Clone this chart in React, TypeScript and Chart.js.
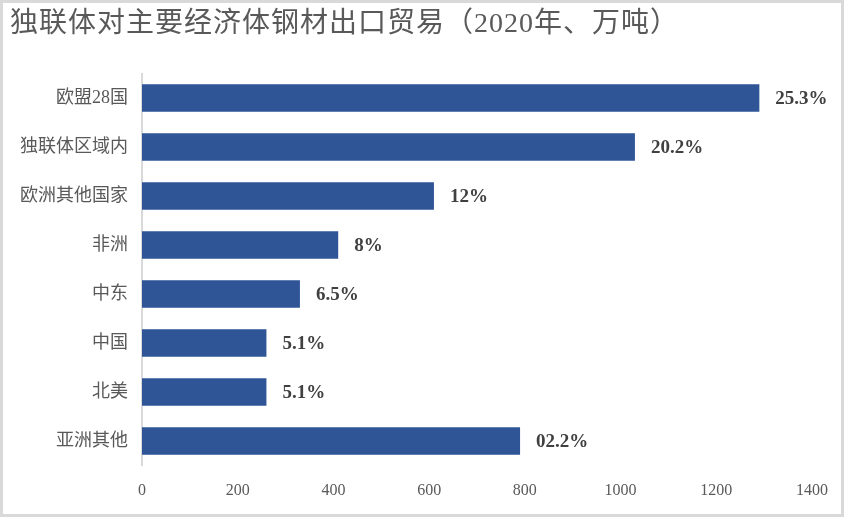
import React, { useEffect, useRef } from "react";
import { Chart, registerables } from "chart.js";

Chart.register(...registerables);

const TITLE = "独联体对主要经济体钢材出口贸易（2020年、万吨）";
const categories = ["欧盟28国", "独联体区域内", "欧洲其他国家", "非洲", "中东", "中国", "北美", "亚洲其他"];
const exportVolume = [1290, 1030, 610, 410, 330, 260, 260, 790];
const shareLabels = ["25.3%", "20.2%", "12%", "8%", "6.5%", "5.1%", "5.1%", "02.2%"];
const xTicks = [0, 200, 400, 600, 800, 1000, 1200, 1400];

const SERIF_CJK = '"Liberation Serif", "Noto Sans CJK SC", serif';

const titlePlugin = {
  id: "leftTitle",
  afterDraw(chart: any) {
    const ctx = chart.ctx;
    ctx.save();
    ctx.font = `28px ${SERIF_CJK}`;
    try {
      (ctx as any).letterSpacing = "1px";
    } catch (e) {}
    ctx.fillStyle = "#595959";
    ctx.textAlign = "left";
    ctx.textBaseline = "middle";
    ctx.fillText(TITLE, 10, 25);
    ctx.restore();
  },
};

const barLabelPlugin = {
  id: "barLabels",
  afterDatasetsDraw(chart: any) {
    const ctx = chart.ctx;
    const meta = chart.getDatasetMeta(0);
    ctx.save();
    ctx.font = 'bold 19px "Liberation Serif", serif';
    ctx.fillStyle = "#404040";
    ctx.textAlign = "left";
    ctx.textBaseline = "middle";
    meta.data.forEach((bar: any, i: number) => {
      ctx.fillText(shareLabels[i], bar.x + 16, bar.y + 1);
    });
    ctx.restore();
  },
};

export default function App() {
  const ref = useRef<HTMLCanvasElement | null>(null);

  useEffect(() => {
    document.body.style.margin = "0";
    const canvas = ref.current;
    if (!canvas) return;
    const chart = new Chart(canvas, {
      type: "bar",
      data: {
        labels: categories,
        datasets: [
          {
            data: exportVolume,
            backgroundColor: "#2F5597",
            barPercentage: 0.565,
            categoryPercentage: 1,
          },
        ],
      },
      options: {
        indexAxis: "y",
        animation: false,
        responsive: false,
        maintainAspectRatio: false,
        layout: { padding: { left: 0, right: 31, top: 73.5, bottom: 0 } },
        plugins: {
          legend: { display: false },
          tooltip: { enabled: false },
          title: { display: false },
        },
        scales: {
          x: {
            min: 0,
            max: 1400,
            afterBuildTicks(scale: any) {
              scale.ticks = xTicks.map((v) => ({ value: v }));
            },
            afterFit(scale: any) {
              scale.height = 51.5;
            },
            grid: { display: false, drawTicks: false },
            border: { display: false },
            ticks: {
              padding: 16,
              color: "#595959",
              font: { family: '"Liberation Serif", serif', size: 16 },
              callback: (v: any) => String(v),
            },
          },
          y: {
            afterFit(scale: any) {
              scale.width = 142;
            },
            grid: { display: false, drawTicks: false },
            border: { display: true, color: "#d9d9d9", width: 2 },
            ticks: {
              padding: 14,
              color: "#595959",
              font: { family: SERIF_CJK, size: 18 },
            },
          },
        },
      },
      plugins: [barLabelPlugin, titlePlugin],
    });
    return () => chart.destroy();
  }, []);

  return (
    <div style={{ position: "relative", width: 844, height: 517, background: "#fff" }}>
      <canvas ref={ref} width={844} height={517} style={{ display: "block", width: 844, height: 517 }} />
      <div
        style={{
          position: "absolute",
          left: 0,
          top: 0,
          width: 844,
          height: 517,
          boxSizing: "border-box",
          border: "3px solid #d9d9d9",
          pointerEvents: "none",
        }}
      />
    </div>
  );
}
